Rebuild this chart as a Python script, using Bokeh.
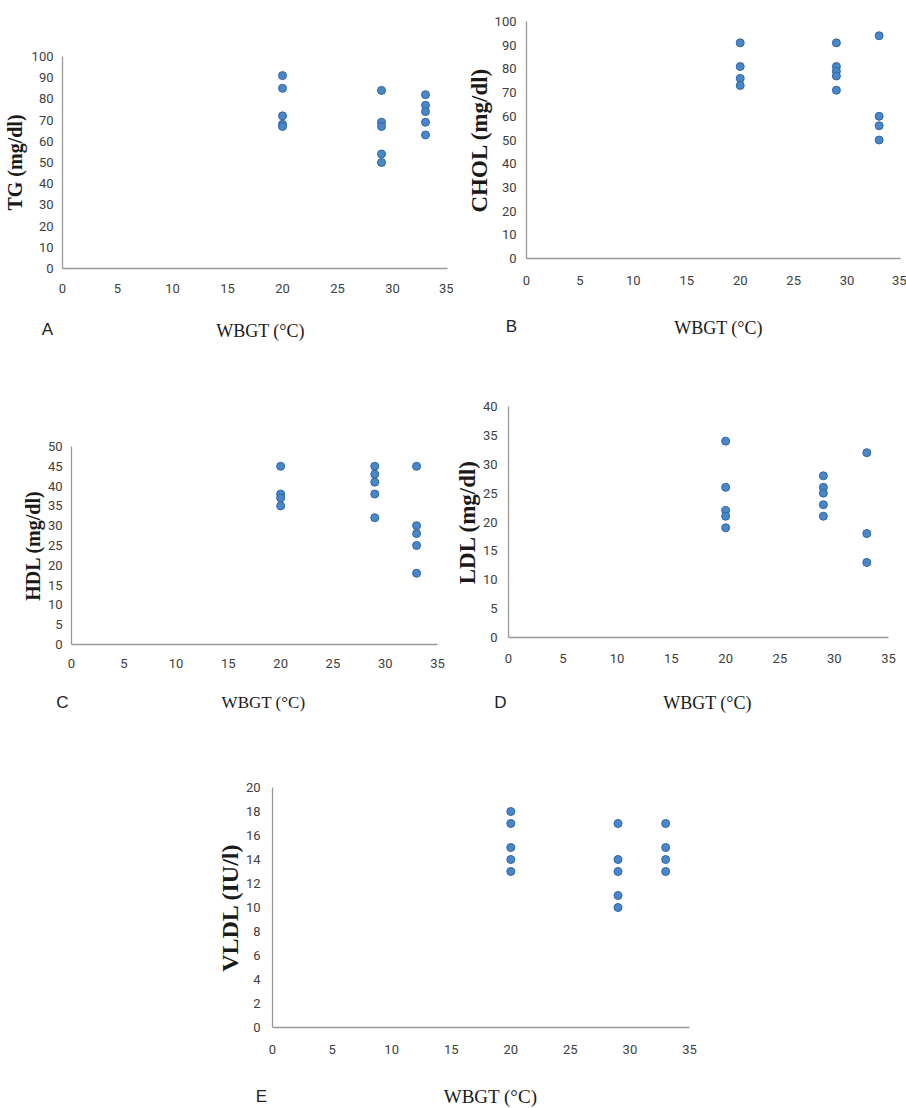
from bokeh.plotting import figure
from bokeh.layouts import column, row, Spacer
from bokeh.models import Range1d, FixedTicker, Label, ColumnDataSource
from bokeh.embed import file_html
from bokeh.resources import INLINE

# ---------------- data ----------------
x_ticks = [0, 5, 10, 15, 20, 25, 30, 35]
wbgt_levels = [20, 29, 33]

tg_at_20 = [91, 85, 72, 68, 67]
tg_at_29 = [84, 69, 67, 54, 50]
tg_at_33 = [82, 77, 74, 69, 63]

chol_at_20 = [91, 81, 76, 73]
chol_at_29 = [91, 81, 79, 77, 71]
chol_at_33 = [94, 60, 56, 50]

hdl_at_20 = [45, 38, 37, 35]
hdl_at_29 = [45, 43, 41, 38, 32]
hdl_at_33 = [45, 30, 28, 25, 18]

ldl_at_20 = [34, 26, 22, 21, 19]
ldl_at_29 = [28, 26, 25, 23, 21]
ldl_at_33 = [32, 18, 13]

vldl_at_20 = [18, 17, 15, 14, 13]
vldl_at_29 = [17, 14, 13, 11, 10]
vldl_at_33 = [17, 15, 14, 13]

tg_ticks = [0, 10, 20, 30, 40, 50, 60, 70, 80, 90, 100]
chol_ticks = [0, 10, 20, 30, 40, 50, 60, 70, 80, 90, 100]
hdl_ticks = [0, 5, 10, 15, 20, 25, 30, 35, 40, 45, 50]
ldl_ticks = [0, 5, 10, 15, 20, 25, 30, 35, 40]
vldl_ticks = [0, 2, 4, 6, 8, 10, 12, 14, 16, 18, 20]

x_title = "WBGT (°C)"

TICK_FONT = "Roboto"
SERIF = "Liberation Serif"
MARK_FILL = "#4a86c8"
MARK_LINE = "#2f67a6"
AXIS_COLOR = "#999999"


def make_panel(letter, ylabel, groups, yticks, rect, pix, letter_at, title_at,
               ylab_size, ylab_stand, ytick_stand, xtick_stand, xlab_size):
    fx, fy, fw, fh = rect                 # canvas position on the page
    x0p, x1p, y0p, y1p = pix              # where x=0 / x=35 / y=0 / y=max land
    xmax, ymax = x_ticks[-1], yticks[-1]
    sx = (x1p - x0p) / xmax
    sy = (y0p - y1p) / ymax
    xr = Range1d((fx - x0p) / sx, (fx + fw - x0p) / sx)
    yr = Range1d(-(fy + fh - y0p) / sy, (y0p - fy) / sy)

    def to_data(px, py):
        return (px - x0p) / sx, (y0p - py) / sy

    xs, ys = [], []
    for level, vals in zip(wbgt_levels, groups):
        xs += [level] * len(vals)
        ys += list(vals)
    src = ColumnDataSource(dict(x=xs, y=ys))

    p = figure(width=fw, height=fh, output_backend="svg", toolbar_location=None,
               x_range=xr, y_range=yr, min_border=0)
    p.title.visible = False
    p.outline_line_color = None
    p.grid.visible = False
    p.background_fill_color = "white"
    p.border_fill_color = "white"

    p.scatter("x", "y", source=src, marker="circle", size=8,
              fill_color=MARK_FILL, line_color=MARK_LINE, line_width=1)

    p.xaxis.fixed_location = 0
    p.yaxis.fixed_location = 0
    p.xaxis.bounds = (0, xmax)
    p.yaxis.bounds = (0, ymax)
    for ax in (p.xaxis[0], p.yaxis[0]):
        ax.axis_line_color = AXIS_COLOR
        ax.axis_line_width = 1.3
        ax.major_tick_line_color = None
        ax.minor_tick_line_color = None
        ax.major_tick_out = 0
        ax.major_tick_in = 0
        ax.minor_tick_out = 0
        ax.minor_tick_in = 0
        ax.major_label_text_font = TICK_FONT
        ax.major_label_text_font_size = "13px"
        ax.major_label_text_color = "#404040"

    p.xaxis.ticker = FixedTicker(ticks=x_ticks)
    p.yaxis.ticker = FixedTicker(ticks=yticks)
    p.xaxis.major_label_standoff = xtick_stand
    p.yaxis.major_label_standoff = ytick_stand

    p.yaxis.axis_label = ylabel
    p.yaxis.axis_label_text_font = SERIF
    p.yaxis.axis_label_text_font_style = "bold"
    p.yaxis.axis_label_text_font_size = f"{ylab_size}px"
    p.yaxis.axis_label_text_color = "#1a1a1a"
    p.yaxis.axis_label_standoff = ylab_stand

    lx, ly = to_data(*letter_at)
    p.add_layout(Label(x=lx, y=ly, text=letter, text_font="Liberation Sans",
                       text_font_size="17px", text_color="#222222",
                       text_align="center", text_baseline="middle"))
    tx, ty = to_data(*title_at)
    p.add_layout(Label(x=tx, y=ty, text=x_title, text_font=SERIF,
                       text_font_size=f"{xlab_size}px", text_color="#1a1a1a",
                       text_align="center", text_baseline="middle"))
    return p


pA = make_panel("A", "TG (mg/dl)", [tg_at_20, tg_at_29, tg_at_33], tg_ticks,
                (0, 0, 453, 345), (62, 447, 268, 56), (47, 329), (260, 330),
                20, 3, 9, 15, 18)
pB = make_panel("B", "CHOL (mg/dl)", [chol_at_20, chol_at_29, chol_at_33], chol_ticks,
                (453, 0, 453, 345), (526, 900, 258, 21), (511, 326), (718, 327),
                23, 0, 10, 17, 18)
pC = make_panel("C", "HDL (mg/dl)", [hdl_at_20, hdl_at_29, hdl_at_33], hdl_ticks,
                (0, 345, 453, 380), (71, 437, 644, 446), (62, 702), (263, 702),
                20, 1, 9, 14, 17)
pD = make_panel("D", "LDL (mg/dl)", [ldl_at_20, ldl_at_29, ldl_at_33], ldl_ticks,
                (453, 345, 453, 380), (508, 888, 637, 406), (500, 702), (707, 702),
                23, 0, 11, 16, 18)
pE = make_panel("E", "VLDL (IU/l)", [vldl_at_20, vldl_at_29, vldl_at_33], vldl_ticks,
                (200, 725, 520, 383), (272, 689, 1027, 787), (261, 1096), (490, 1096),
                24, 0, 12, 17, 19)

layout = column(row(pA, pB), row(pC, pD), row(Spacer(width=200, height=383), pE),
                spacing=0)

open("out.html", "w").write(file_html(layout, INLINE))
